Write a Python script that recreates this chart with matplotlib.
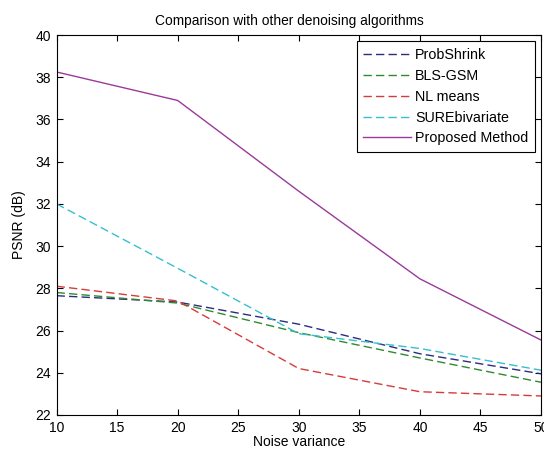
import numpy as np
import matplotlib
matplotlib.use("Agg")
import matplotlib.pyplot as plt

plt.rcParams['font.family'] = ['Liberation Sans', 'DejaVu Sans']

# Data
noise = [10, 20, 30, 40, 50]
prob_shrink = [27.65, 27.35, 26.3, 24.9, 23.95]
bls_gsm = [27.8, 27.3, 25.9, 24.7, 23.55]
nl_means = [28.1, 27.4, 24.2, 23.1, 22.9]
sure_biv = [32.0, 28.95, 25.85, 25.15, 24.12]
proposed = [38.25, 36.9, 32.6, 28.45, 25.55]

fig = plt.figure(figsize=(5.44, 4.55), dpi=100)
ax = fig.add_axes([0.104, 0.088, 0.8905, 0.835])

ax.plot(noise, prob_shrink, '--', color='#2b2b80', lw=1, dashes=(6, 3), label='ProbShrink')
ax.plot(noise, bls_gsm, '--', color='#2f8a2f', lw=1, dashes=(6, 3), label='BLS-GSM')
ax.plot(noise, nl_means, '--', color='#d83a3a', lw=1, dashes=(6, 3), label='NL means')
ax.plot(noise, sure_biv, '--', color='#35c0d0', lw=1, dashes=(6, 3), label='SUREbivariate')
ax.plot(noise, proposed, '-', color='#9a3a9a', lw=1, label='Proposed Method')

ax.set_xlim(10, 50)
ax.set_ylim(22, 40)
ax.set_xticks(np.arange(10, 51, 5))
ax.set_yticks(np.arange(22, 41, 2))
ax.tick_params(direction='in', top=True, right=True, length=4, labelsize=10, pad=4)
for s in ax.spines.values():
    s.set_linewidth(0.8)

ax.set_title('Comparison with other denoising algorithms', fontsize=9.9, pad=7, x=0.48)
ax.set_xlabel('Noise variance', fontsize=10, labelpad=0)
ax.set_ylabel('PSNR (dB)', fontsize=10, labelpad=7)

leg = ax.legend(loc='upper right', fontsize=10.3, fancybox=False, framealpha=1,
                edgecolor='black', handlelength=3.3, borderaxespad=0.45,
                labelspacing=0.48, handletextpad=0.3, borderpad=0.45)
leg.get_frame().set_linewidth(0.8)

fig.savefig('out.png', dpi=100)
